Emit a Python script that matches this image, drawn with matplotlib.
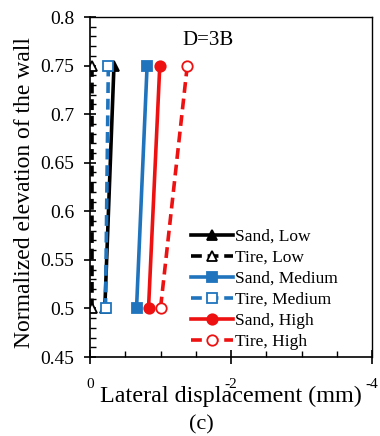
import matplotlib
matplotlib.use("Agg")
import matplotlib.pyplot as plt
from matplotlib.ticker import MultipleLocator

# Normalized elevations of the two measurement points
elevation = [0.75, 0.5]

# Lateral displacement (mm) for each backfill / surcharge case
sand_low = [-0.34, -0.21]
tire_low = [-0.03, -0.03]
sand_medium = [-0.81, -0.66]
tire_medium = [-0.26, -0.22]
sand_high = [-0.99, -0.83]
tire_high = [-1.38, -1.00]

labels = ["Sand, Low", "Tire, Low", "Sand, Medium", "Tire, Medium", "Sand, High", "Tire, High"]
x_ticks = [0, -2, -4]
y_ticks = [0.45, 0.5, 0.55, 0.6, 0.65, 0.7, 0.75, 0.8]

SERIF = "Liberation Serif"
BLACK = "#000000"
BLUE = "#1f74bd"
RED = "#ee1111"

fig = plt.figure(figsize=(3.8, 4.36), dpi=100)
ax = fig.add_axes([90 / 380, 79 / 436, 282 / 380, 340 / 436])

lw = 2.6
ms = 7.5
series = [
    (sand_low, BLACK, "-", "^", BLACK),
    (tire_low, BLACK, "--", "^", "white"),
    (sand_medium, BLUE, "-", "s", BLUE),
    (tire_medium, BLUE, "--", "s", "white"),
    (sand_high, RED, "-", "o", RED),
    (tire_high, RED, "--", "o", "white"),
]
for (vals, col, ls, mk, fc), lab in zip(series, labels):
    ax.plot(vals, elevation, color=col, linestyle=ls, linewidth=lw,
            marker=mk, markersize=ms, markerfacecolor=fc,
            markeredgecolor=col, markeredgewidth=1.3,
            dashes=(3, 1.6) if ls == "--" else (None, None), label=lab)

ax.set_xlim(0, -4)
ax.set_ylim(0.45, 0.8)
ax.set_xticks(x_ticks)
ax.set_xticklabels([str(v) for v in x_ticks], family=SERIF, fontsize=11)
ax.set_yticks(y_ticks)
ax.set_yticklabels(["0.45", "0.5", "0.55", "0.6", "0.65", "0.7", "0.75", "0.8"],
                   family=SERIF, fontsize=14)
ax.xaxis.set_minor_locator(MultipleLocator(0.5))
ax.yaxis.set_minor_locator(MultipleLocator(0.01))
ax.tick_params(axis="x", which="major", direction="inout", length=10, width=1.2, pad=10)
ax.tick_params(axis="y", which="major", direction="inout", length=9, width=1.2, pad=7)
ax.tick_params(which="minor", direction="in", length=4, width=1.0)
for s in ax.spines.values():
    s.set_linewidth(1.2)
for s in ("top", "right"):
    ax.spines[s].set_linewidth(1.0)

ax.text(0.42, 0.96, "D=3B", transform=ax.transAxes, ha="center", va="top",
        fontsize=15, family=SERIF)

fig.text(25 / 380, 1 - 193 / 436, "Normalized elevation of the wall", rotation=90,
         ha="center", va="center", family=SERIF, fontsize=17)
fig.text(231 / 380, 1 - 396 / 436, "Lateral displacement (mm)", ha="center", va="center",
         family=SERIF, fontsize=17.4)
fig.text(201 / 380, 1 - 425 / 436, "(c)", ha="center", va="center",
         family=SERIF, fontsize=16)

leg = ax.legend(loc="lower left", bbox_to_anchor=(0.335, 0.0), frameon=False,
                prop={"family": SERIF, "size": 12.5}, handlelength=2.4,
                handletextpad=0.1, labelspacing=0.28, borderaxespad=0)

fig.savefig("out.png", dpi=100)
